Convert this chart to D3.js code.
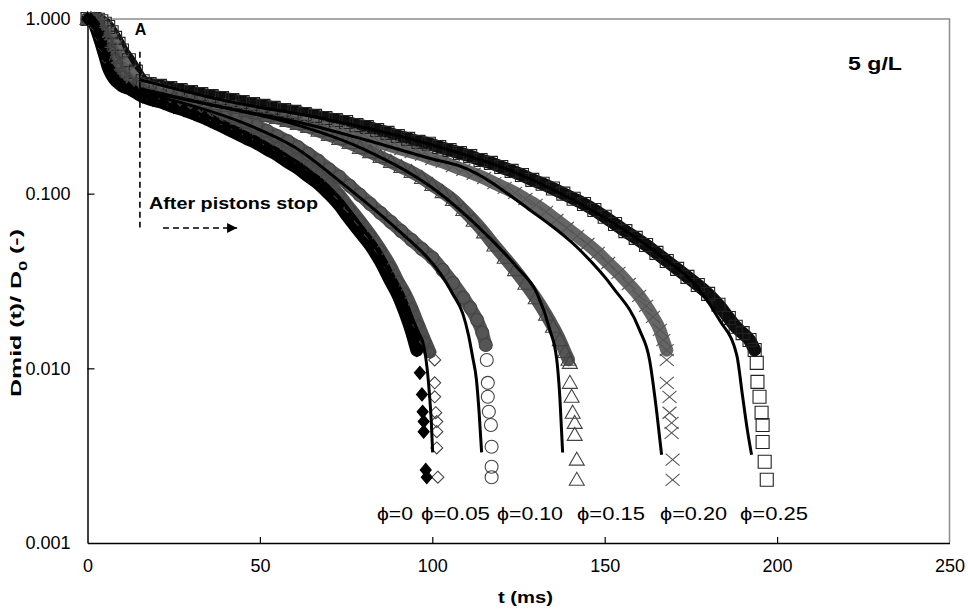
<!DOCTYPE html>
<html><head><meta charset="utf-8">
<script src="https://cdn.jsdelivr.net/npm/d3@7"></script>
<style>body{margin:0;background:#fff}svg{display:block}text{font-family:"Liberation Sans",Arial,sans-serif}</style>
</head><body><svg id="chart" width="968" height="614"></svg>
<script>
// ---------- data ----------
const xTicks=[0,50,100,150,200,250];
const yTicks=[0.001,0.01,0.1,1];
const yTickLabels=["0.001","0.010","0.100","1.000"];
const phiLabels=["\u03D5=0","\u03D5=0.05","\u03D5=0.10","\u03D5=0.15","\u03D5=0.20","\u03D5=0.25"];

const phi0_t=[0,1,2,3,4,5,6,7,8,9,10,12,14,16,19,22,25,28,31,34,37,40,43,46,49,52,55,58,61,64,67,70,73,76,79,82,85,88,90,92,94,95.5];
const phi0_D=[1.0,0.99,0.94,0.83,0.72,0.62,0.53,0.48,0.45,0.43,0.415,0.40,0.38,0.36,0.344,0.331,0.314,0.301,0.286,0.271,0.254,0.238,0.223,0.208,0.195,0.180,0.167,0.152,0.140,0.126,0.114,0.100,0.0862,0.0717,0.0604,0.0508,0.0408,0.0313,0.0264,0.0211,0.0162,0.0127];
const phi0_tail_t=[96.4,97.0,97.2,97.5,97.5,98.1,98.4];
const phi0_tail_D=[0.00942,0.00709,0.00564,0.00496,0.00434,0.00262,0.00238];

const phi005_t=[0,1,2,3,4,5,6,7,8,9,10,12,14,16,19,22,25,28,31,34,37,40,43,46,49,52,55,58,61,64,67,70,73,76,79,82,85,88,90,92,94,96,98,99.3];
const phi005_D=[1.0,0.99,0.96,0.88,0.78,0.68,0.58,0.52,0.48,0.45,0.43,0.41,0.39,0.37,0.348,0.335,0.322,0.310,0.297,0.282,0.268,0.254,0.241,0.226,0.211,0.198,0.185,0.171,0.158,0.144,0.130,0.115,0.0984,0.0828,0.0698,0.0581,0.0476,0.0380,0.0316,0.0270,0.0222,0.0177,0.0142,0.0124];
const phi005_tail_t=[100.7,100.7,100.7,101.0,101.3,101.3,101.3,101.6];
const phi005_tail_D=[0.01117,0.00826,0.00687,0.00557,0.00496,0.00434,0.00350,0.00238];

const phi010_t=[0,1,2,3,4,5,6,7,8,9,10,12,14,16,19,22,25,28,31,34,37,40,43,46,49,52,55,58,61,64,67,70,73,76,79,82,85,88,91,94,97,100,103,106,109,111,113,114.5,115.5];
const phi010_D=[1.0,1.0,0.98,0.93,0.85,0.76,0.66,0.58,0.52,0.48,0.46,0.43,0.41,0.385,0.367,0.353,0.344,0.335,0.322,0.310,0.297,0.282,0.271,0.257,0.244,0.229,0.214,0.200,0.185,0.169,0.154,0.138,0.125,0.111,0.0984,0.0873,0.0775,0.0688,0.0610,0.0543,0.0482,0.0430,0.0366,0.0308,0.0254,0.0222,0.0189,0.0160,0.0136];
const phi010_tail_t=[115.8,116.1,116.1,116.4,117.0,117.2,117.2,117.2];
const phi010_tail_D=[0.01117,0.00826,0.00687,0.00564,0.00474,0.00356,0.00273,0.00238];

const phi015_t=[0,1,2,3,4,5,6,7,8,9,10,12,14,16,19,22,25,28,31,34,37,40,43,46,49,52,55,58,61,64,67,70,73,76,79,82,85,88,91,94,97,100,103,106,109,112,115,118,121,124,127,130,133,135,137,138.5,139.5];
const phi015_D=[1.0,1.0,0.99,0.96,0.90,0.82,0.74,0.67,0.60,0.54,0.50,0.45,0.42,0.40,0.377,0.367,0.358,0.353,0.344,0.335,0.326,0.318,0.310,0.297,0.290,0.279,0.271,0.261,0.251,0.241,0.229,0.217,0.206,0.195,0.183,0.173,0.162,0.152,0.142,0.133,0.123,0.112,0.102,0.092,0.0807,0.0700,0.0600,0.0505,0.0430,0.0365,0.0305,0.0252,0.0203,0.0173,0.0145,0.0124,0.0112];
const phi015_tail_t=[139.9,139.9,140.4,140.7,141.3,141.3,141.9,141.9];
const phi015_tail_D=[0.01074,0.00826,0.00687,0.00557,0.00487,0.00416,0.00300,0.00230];

const phi020_t=[0,1,2,3,4,5,6,7,8,9,10,12,14,16,19,22,25,28,31,34,37,40,43,46,49,52,55,58,61,64,67,70,73,76,79,82,85,88,91,94,97,100,103,106,109,112,115,118,121,124,127,130,133,136,139,142,145,148,151,154,157,160,162,164,166,167,168];
const phi020_D=[1.0,1.0,1.0,0.98,0.95,0.90,0.84,0.77,0.70,0.63,0.58,0.50,0.45,0.42,0.403,0.387,0.372,0.358,0.344,0.331,0.322,0.314,0.306,0.297,0.290,0.282,0.275,0.268,0.261,0.251,0.244,0.235,0.229,0.220,0.211,0.203,0.195,0.188,0.180,0.173,0.167,0.158,0.152,0.144,0.137,0.130,0.123,0.115,0.108,0.101,0.0932,0.0862,0.0786,0.0707,0.0636,0.0573,0.0515,0.0458,0.0401,0.0352,0.0304,0.0260,0.0228,0.0197,0.0166,0.0145,0.0127];
const phi020_tail_t=[168.0,168.0,168.8,168.8,169.4,169.4,169.7,169.7];
const phi020_tail_D=[0.01117,0.00826,0.00687,0.00557,0.00487,0.00427,0.00300,0.00230];

const phi025_t=[0,1,2,3,4,5,6,7,8,9,10,12,14,16,18,21,24,27,30,33,36,39,42,45,48,51,54,57,60,63,66,69,72,75,78,81,84,87,90,93,96,99,102,105,108,111,114,117,120,123,126,129,132,135,138,141,144,147,150,153,156,159,162,165,168,171,174,177,180,183,186,188,190,192,193.5];
const phi025_D=[1.0,1.0,1.0,0.99,0.97,0.94,0.90,0.84,0.78,0.72,0.66,0.58,0.50,0.44,0.424,0.414,0.403,0.392,0.382,0.372,0.362,0.353,0.344,0.335,0.326,0.318,0.310,0.301,0.294,0.286,0.279,0.271,0.264,0.257,0.247,0.241,0.2315,0.223,0.214,0.206,0.198,0.193,0.185,0.178,0.171,0.164,0.156,0.150,0.142,0.135,0.128,0.120,0.114,0.107,0.100,0.0935,0.0873,0.0807,0.0737,0.0670,0.0610,0.0558,0.0508,0.0458,0.0412,0.0371,0.0334,0.0300,0.0267,0.0231,0.0194,0.0173,0.0159,0.01454,0.01274];
const phi025_tail_t=[194.1,194.3,194.9,195.5,195.8,195.8,196.4,197.0];
const phi025_tail_D=[0.01074,0.00836,0.00687,0.00557,0.00474,0.00379,0.00292,0.00230];

// model curves (solid lines)
const model0_t=[15,25,35,45,55,65,75,85,92,96,97.5,98.5,99.2,99.7,100.1];
const model0_D=[0.37,0.318,0.275,0.225,0.178,0.132,0.085,0.044,0.024,0.016,0.0135,0.010,0.007,0.005,0.0033];
const model1_t=[15,30,45,60,75,90,100,103,106,108.8,110.5,111.7,112.8,113.6,114.3];
const model1_D=[0.38,0.32,0.255,0.185,0.11,0.062,0.040,0.0334,0.0265,0.0207,0.0155,0.0116,0.0086,0.0055,0.0033];
const model2_t=[15,40,60,80,100,115,124.5,130.3,134.1,136.1,137,137.8];
const model2_D=[0.39,0.31,0.25,0.18,0.108,0.060,0.0380,0.0270,0.0166,0.0112,0.0068,0.0033];
const model3_t=[15,40,60,80,100,108.8,128.3,142.8,152.3,160.1,163,165.1,166.5];
const model3_D=[0.40,0.31,0.26,0.205,0.158,0.142,0.0807,0.0476,0.0292,0.0166,0.0112,0.0056,0.0032];
const model4_t=[15,40,70,100,125,148.6,165.9,177.5,183.3,188.3,190,191.4,192.6];
const model4_D=[0.45,0.34,0.265,0.19,0.13,0.0755,0.0446,0.0281,0.0189,0.0119,0.0069,0.0044,0.0032];

// ---------- drawing ----------
const svg=d3.select("#chart");
const x=d3.scaleLinear().domain([0,250]).range([87.5,949.5]);
const y=d3.scaleLog().domain([0.001,1]).range([543,19]);
const zip=(t,D)=>t.map((v,i)=>({t:v,D:D[i]}));

// frame (top/right gray)
svg.append("path").attr("d",`M${x(0)},${y(1)}H${x(250)}V${y(0.001)}`)
  .attr("fill","none").attr("stroke","#8c8c8c").attr("stroke-width",1.5);

// axes
const xAxis=d3.axisBottom(x).tickValues(xTicks).tickSizeInner(-6).tickSizeOuter(0).tickPadding(16).tickFormat(d3.format("d"));
const gx=svg.append("g").attr("transform",`translate(0,${y(0.001)})`).call(xAxis);
const yAxis=d3.axisLeft(y).tickValues(yTicks).tickSizeInner(-7).tickSizeOuter(0).tickPadding(17).tickFormat((d,i)=>yTickLabels[i]);
const gy=svg.append("g").attr("transform",`translate(${x(0)},0)`).call(yAxis);
[gx,gy].forEach(g=>{
  g.select(".domain").attr("stroke","#000").attr("stroke-width",1.5);
  g.selectAll(".tick line").attr("stroke","#000").attr("stroke-width",1.2);
  g.selectAll(".tick text").attr("font-size",18).attr("font-family","Liberation Sans, Arial, sans-serif").attr("fill","#000");
});
gx.selectAll(".tick").filter(d=>d===0||d===250).select("line").remove();
gy.selectAll(".tick").filter(d=>d===1||d===0.001).select("line").remove();

// marker shapes
const shapes={
  fdiamond:"M0,-6.5L5.5,0L0,6.5L-5.5,0Z",
  odiamond:"M0,-6L6,0L0,6L-6,0Z",
  circle:"M-6.5,0A6.5,6.5 0 1,0 6.5,0A6.5,6.5 0 1,0 -6.5,0Z",
  triangle:"M0,-7.5L7.5,5.5L-7.5,5.5Z",
  cross:"M-7,-6L7,6M-7,6L7,-6",
  square:"M-6.5,-6.5h13v13h-13Z"
};
const series=[
  {main:zip(phi0_t,phi0_D),tail:zip(phi0_tail_t,phi0_tail_D),shape:"fdiamond",band:"#000",fill:"#000",stroke:"#000"},
  {main:zip(phi005_t,phi005_D),tail:zip(phi005_tail_t,phi005_tail_D),shape:"odiamond",band:"#4d4d4d",fill:"none",stroke:"#444"},
  {main:zip(phi010_t,phi010_D),tail:zip(phi010_tail_t,phi010_tail_D),shape:"circle",band:"#555",fill:"none",stroke:"#444"},
  {main:zip(phi015_t,phi015_D),tail:zip(phi015_tail_t,phi015_tail_D),shape:"triangle",band:"#555",fill:"none",stroke:"#444"},
  {main:zip(phi020_t,phi020_D),tail:zip(phi020_tail_t,phi020_tail_D),shape:"cross",band:"#666",fill:"none",stroke:"#555"},
  {main:zip(phi025_t,phi025_D),tail:zip(phi025_tail_t,phi025_tail_D),shape:"square",band:"#0d0d0d",fill:"none",stroke:"#222"}
];
const line=d3.line().x(d=>x(d.t)).y(d=>y(d.D)).curve(d3.curveMonotoneX);
const gData=svg.append("g");
series.slice().reverse().forEach(s=>{
  gData.append("path").datum(s.main).attr("d",line).attr("fill","none")
    .attr("stroke",s.band).attr("stroke-width",13).attr("stroke-linecap","round").attr("stroke-linejoin","round");
});
series.slice().reverse().forEach(s=>{
  gData.append("g").selectAll("path").data(s.main.concat(s.tail)).join("path")
    .attr("transform",d=>`translate(${x(d.t)},${y(d.D)})`).attr("d",shapes[s.shape])
    .attr("fill",s.fill).attr("stroke",s.stroke).attr("stroke-width",1.1);
});
// model lines
[zip(model0_t,model0_D),zip(model1_t,model1_D),zip(model2_t,model2_D),zip(model3_t,model3_D),zip(model4_t,model4_D)]
 .forEach(m=>gData.append("path").datum(m).attr("d",line).attr("fill","none").attr("stroke","#000").attr("stroke-width",3));

// annotations
const ann=svg.append("g");
ann.append("line").attr("x1",x(15.2)).attr("x2",x(15.2)).attr("y1",y(0.65)).attr("y2",y(0.064))
  .attr("stroke","#000").attr("stroke-width",1.6).attr("stroke-dasharray","6,4");
ann.append("text").attr("x",x(15.4)).attr("y",35).attr("text-anchor","middle")
  .attr("font-size",16).attr("font-weight","bold").text("A");
ann.append("text").attr("x",149).attr("y",209).attr("font-size",16).attr("font-weight","bold")
  .attr("textLength",169).attr("lengthAdjust","spacingAndGlyphs").text("After pistons stop");
svg.append("defs").append("marker").attr("id","ah").attr("viewBox","0 0 10 10").attr("refX",10).attr("refY",5)
  .attr("markerWidth",10).attr("markerHeight",10).attr("markerUnits","userSpaceOnUse").attr("orient","auto")
  .append("path").attr("d","M0,0L10,5L0,10Z").attr("fill","#000");
ann.append("line").attr("x1",x(21.9)).attr("x2",x(43.4)).attr("y1",y(0.0636)).attr("y2",y(0.0636))
  .attr("stroke","#000").attr("stroke-width",1.6).attr("stroke-dasharray","6,4").attr("marker-end","url(#ah)");
ann.append("text").attr("x",848).attr("y",70).attr("font-size",19).attr("font-weight","bold")
  .attr("textLength",54).attr("lengthAdjust","spacingAndGlyphs").text("5 g/L");

const phiStart=[377,421,497,577,660,740], phiLen=[36,69,66,68,67,68];
ann.selectAll("text.phi").data(phiLabels).join("text").attr("class","phi")
  .attr("x",(d,i)=>phiStart[i]).attr("y",520).attr("font-size",19)
  .attr("textLength",(d,i)=>phiLen[i]).attr("lengthAdjust","spacingAndGlyphs").text(d=>d);

// axis titles
svg.append("text").attr("x",525.5).attr("y",603).attr("text-anchor","middle").attr("font-size",16).attr("font-weight","bold")
  .attr("textLength",55).attr("lengthAdjust","spacingAndGlyphs").text("t (ms)");
const yt=svg.append("text").attr("transform","translate(21,313) rotate(-90)").attr("text-anchor","middle")
  .attr("font-size",15).attr("font-weight","bold").attr("textLength",168).attr("lengthAdjust","spacingAndGlyphs");
yt.append("tspan").text("Dmid (t)/ D");
yt.append("tspan").attr("baseline-shift","sub").attr("font-size",11).text("0");
yt.append("tspan").text(" (-)");
</script></body></html>
